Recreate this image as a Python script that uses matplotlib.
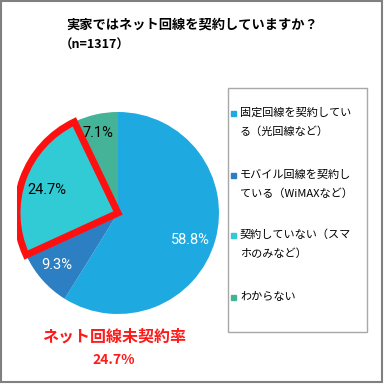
import matplotlib.pyplot as plt
from matplotlib.patches import Wedge, Rectangle

plt.rcParams['font.family'] = ['Noto Sans CJK JP', 'DejaVu Sans']

# data
labels = ['固定回線を契約している（光回線など）',
          'モバイル回線を契約している（WiMAXなど）',
          '契約していない（スマホのみなど）',
          'わからない']
legend_lines = [['固定回線を契約してい', 'る（光回線など）'],
                ['モバイル回線を契約し', 'ている（WiMAXなど）'],
                ['契約していない（スマ', 'ホのみなど）'],
                ['わからない']]
values = [58.8, 9.3, 24.7, 7.1]
colors = ['#1fa9e1', '#2c7fc3', '#31cbd5', '#44b398']
label_colors = ['white', 'white', 'black', 'black']
title = '実家ではネット回線を契約していますか？'
subtitle = '（n=1317）'
note = 'ネット回線未契約率'
note_val = '24.7%'

W, H = 384, 385
fig = plt.figure(figsize=(W / 100, H / 100), dpi=100)

def fx(x):
    return x / W

def fy(y):
    return 1 - y / H

# pie axes, center (118, 213), radius 101 px
cx, cy, r = 118, 213, 101
ax = fig.add_axes([fx(cx - r), fy(cy + r), 2 * r / W, 2 * r / H])
wedges, texts = ax.pie(values, colors=colors, startangle=90, counterclock=False,
                       wedgeprops=dict(linewidth=0))
ax.set_xlim(-1, 1)
ax.set_ylim(-1, 1)
ax.set_aspect('equal')
ax.axis('off')

# value labels
label_pos = [(190, 240), (57, 265), (47, 190), (98, 133)]
for v, (px, py), c in zip(values, label_pos, label_colors):
    fig.text(fx(px), fy(py), f'{v}%', color=c, fontsize=10.5, ha='center', va='center',
             family=['Roboto', 'DejaVu Sans'])

# red outline around "not contracted" slice
w = wedges[2]
ax.add_patch(Wedge((0, 0), 1.0, w.theta1, w.theta2, fill=False, edgecolor='#ff1010',
                   linewidth=5, joinstyle='miter'))

# titles
fig.text(fx(66), fy(25), title, fontsize=9.5, fontweight='bold', va='center', ha='left')
fig.text(fx(60), fy(45), subtitle, fontsize=9, fontweight='bold', va='center', ha='left')

# red note
fig.text(fx(114), fy(337), note, fontsize=11.5, color='#ff1a1a', fontweight='bold',
         ha='center', va='center')
fig.text(fx(114), fy(360), note_val, fontsize=10, color='#ff1a1a', fontweight='bold',
         ha='center', va='center')

# legend box
fig.patches.append(Rectangle((fx(228), fy(332)), (367 - 228) / W, (332 - 88) / H,
                             transform=fig.transFigure, fill=False,
                             edgecolor='#a8a8a8', linewidth=1))
entry_y = [113, 175, 235, 297]
for lines, c, y0 in zip(legend_lines, colors, entry_y):
    fig.patches.append(Rectangle((fx(231), fy(y0 + 2.5)), 5 / W, 5 / H,
                                 transform=fig.transFigure, color=c))
    for i, t in enumerate(lines):
        fig.text(fx(240), fy(y0 + i * 18.5), t, fontsize=8, va='center', ha='left')

# outer frame
fig.patches.append(Rectangle((fx(1), fy(382)), 381 / W, 381 / H,
                             transform=fig.transFigure, fill=False,
                             edgecolor='#808080', linewidth=1.5))

fig.savefig('out.png', dpi=100)
